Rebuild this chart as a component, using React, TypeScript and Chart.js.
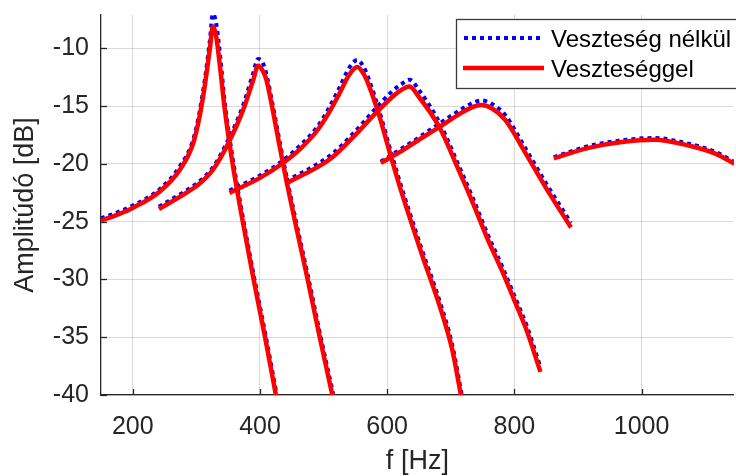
import React, { useEffect, useRef } from "react";
import { Chart, registerables } from "chart.js";

Chart.register(...registerables);

// ---- data ----
const xTicks = [200, 400, 600, 800, 1000];
const yTicks = [-40, -35, -30, -25, -20, -15, -10];
const seriesNames = ["Veszteség nélkül", "Veszteséggel"];
const xLabel = "f [Hz]";
const yLabel = "Amplitúdó [dB]";

const freq1 = [150, 175, 200, 242, 274, 295, 305, 313, 321, 326, 331, 338, 344, 357, 373, 390, 408, 426];
const lossy1 = [-24.9, -24.4, -23.8, -22.4, -20.5, -18.2, -15.9, -13.3, -10.1, -8.1, -8.9, -12.0, -15.0, -20.0, -25.0, -30.0, -35.0, -40.3];
const lossless1 = [-24.7, -24.2, -23.6, -22.2, -20.2, -17.9, -15.5, -12.8, -9.4, -7.0, -7.8, -11.0, -14.4, -19.5, -24.6, -29.6, -34.6, -39.9];

const freq2 = [241, 284, 305, 326, 352, 373, 389, 397, 404, 410, 420, 431, 441, 454, 475, 494, 515];
const lossy2 = [-23.9, -22.5, -21.7, -20.5, -18.0, -15.4, -12.8, -11.5, -11.9, -12.7, -15.3, -18.5, -21.3, -24.7, -30.0, -35.0, -40.3];
const lossless2 = [-23.7, -22.3, -21.5, -20.3, -17.7, -15.0, -12.2, -10.9, -11.2, -12.2, -14.9, -18.1, -20.9, -24.3, -29.6, -34.6, -39.9];

const freq3 = [352, 400, 434, 465, 490, 508, 525, 540, 553, 563, 572, 588, 603, 619, 637, 655, 682, 702, 717];
const lossy3 = [-22.5, -21.2, -20.0, -18.6, -17.1, -15.6, -13.9, -12.3, -11.6, -12.2, -13.3, -15.9, -18.8, -21.8, -24.9, -27.9, -32.2, -36.0, -40.3];
const lossless3 = [-22.3, -21.0, -19.8, -18.3, -16.8, -15.2, -13.4, -11.7, -11.0, -11.6, -12.8, -15.5, -18.4, -21.4, -24.5, -27.5, -31.8, -35.6, -39.9];

const freq4 = [441, 512, 546, 582, 608, 622, 635, 650, 682, 713, 735, 758, 781, 800, 820, 841];
const lossy4 = [-21.7, -19.5, -17.7, -15.6, -14.2, -13.6, -13.3, -14.2, -16.8, -20.6, -23.4, -26.5, -29.3, -31.8, -34.5, -38.0];
const lossless4 = [-21.5, -19.2, -17.4, -15.2, -13.7, -13.1, -12.7, -13.6, -16.4, -20.2, -23.0, -26.1, -28.9, -31.4, -34.1, -37.6];

const freq5 = [590, 619, 650, 682, 713, 735, 748, 765, 786, 818, 849, 889];
const lossy5 = [-19.9, -19.0, -17.9, -16.8, -15.7, -15.05, -14.9, -15.2, -16.2, -19.1, -22.0, -25.5];
const lossless5 = [-19.8, -18.8, -17.7, -16.5, -15.4, -14.7, -14.5, -14.8, -15.8, -18.7, -21.6, -25.1];

const freq6 = [862, 917, 969, 1020, 1074, 1116, 1150];
const lossy6 = [-19.5, -18.6, -18.1, -17.9, -18.4, -19.1, -20.1];
const lossless6 = [-19.4, -18.45, -17.95, -17.75, -18.25, -18.95, -19.95];

const modes = [
  { f: freq1, lossy: lossy1, lossless: lossless1 },
  { f: freq2, lossy: lossy2, lossless: lossless2 },
  { f: freq3, lossy: lossy3, lossless: lossless3 },
  { f: freq4, lossy: lossy4, lossless: lossless4 },
  { f: freq5, lossy: lossy5, lossless: lossless5 },
  { f: freq6, lossy: lossy6, lossless: lossless6 },
];

const BLUE = "#0000ff";
const RED = "#ff0000";
const AXIS = "#262626";
const FONT = '"Liberation Sans", Arial, Helvetica, sans-serif';

const decorPlugin = {
  id: "decor",
  beforeDatasetsDraw(chart: any) {
    const { ctx, chartArea, scales } = chart;
    ctx.save();
    ctx.strokeStyle = AXIS;
    ctx.lineWidth = 1.3;
    xTicks.forEach((v) => {
      const px = Math.round(scales.x.getPixelForValue(v)) + 0.5;
      ctx.beginPath();
      ctx.moveTo(px, chartArea.bottom);
      ctx.lineTo(px, chartArea.bottom - 6);
      ctx.stroke();
    });
    yTicks.forEach((v) => {
      const py = Math.round(scales.y.getPixelForValue(v)) + 0.5;
      ctx.beginPath();
      ctx.moveTo(chartArea.left, py);
      ctx.lineTo(chartArea.left + 6, py);
      ctx.stroke();
    });
    ctx.restore();
  },
  afterDraw(chart: any) {
    const { ctx } = chart;
    ctx.save();
    // legend box
    ctx.fillStyle = "#ffffff";
    ctx.fillRect(456, 19, 300, 69);
    ctx.strokeStyle = "#3a3a3a";
    ctx.lineWidth = 1.3;
    ctx.strokeRect(456.5, 19.5, 300, 69);
    // blue dotted sample
    ctx.strokeStyle = BLUE;
    ctx.lineWidth = 4;
    ctx.setLineDash([4, 4]);
    ctx.beginPath();
    ctx.moveTo(464, 38);
    ctx.lineTo(544, 38);
    ctx.stroke();
    // red solid sample
    ctx.setLineDash([]);
    ctx.strokeStyle = RED;
    ctx.lineWidth = 4.5;
    ctx.beginPath();
    ctx.moveTo(463, 68);
    ctx.lineTo(544, 68);
    ctx.stroke();
    // texts
    ctx.fillStyle = "#000000";
    ctx.font = `24px ${FONT}`;
    ctx.textAlign = "left";
    ctx.textBaseline = "alphabetic";
    ctx.fillText(seriesNames[0], 551, 46.5);
    ctx.fillText(seriesNames[1], 551, 76.5);
    ctx.restore();
  },
};

export default function App() {
  const canvasRef = useRef<HTMLCanvasElement | null>(null);

  useEffect(() => {
    if (!canvasRef.current) return;
    const redSets = modes.map((m, i) => ({
      label: seriesNames[1] + " " + (i + 1),
      data: m.f.map((x, j) => ({ x, y: m.lossy[j] })),
      borderColor: RED,
      backgroundColor: RED,
      borderWidth: 4.5,
      pointRadius: 0,
      fill: false,
      cubicInterpolationMode: "monotone" as const,
      borderCapStyle: "butt" as const,
      clip: 0,
    }));
    const blueSets = modes.map((m, i) => ({
      label: seriesNames[0] + " " + (i + 1),
      data: m.f.map((x, j) => ({ x, y: m.lossless[j] })),
      borderColor: BLUE,
      backgroundColor: BLUE,
      borderWidth: 4,
      borderDash: [4, 4],
      pointRadius: 0,
      fill: false,
      cubicInterpolationMode: "monotone" as const,
      borderCapStyle: "butt" as const,
      clip: 0,
    }));

    const chart = new Chart(canvasRef.current, {
      type: "line",
      data: { datasets: [...redSets, ...blueSets] as any },
      options: {
        responsive: false,
        animation: false,
        devicePixelRatio: 1,
        parsing: false as any,
        layout: { padding: { top: 15, right: 0, left: 0, bottom: 0 } },
        plugins: { legend: { display: false }, tooltip: { enabled: false } },
        scales: {
          x: {
            type: "linear",
            min: 150,
            max: 1145,
            afterBuildTicks: (s: any) => {
              s.ticks = xTicks.map((v) => ({ value: v }));
            },
            afterFit: (s: any) => {
              s.height = 81;
              s.paddingLeft = 0;
              s.paddingRight = 0;
            },
            grid: { color: "rgba(38,38,38,0.17)", lineWidth: 1, drawTicks: false, tickLength: 0 },
            border: { display: true, color: AXIS, width: 1.3 },
            ticks: {
              color: AXIS,
              font: { family: FONT, size: 25 },
              padding: 17,
              maxRotation: 0,
              autoSkip: false,
              callback: (v: any) => String(v),
            },
            title: {
              display: true,
              text: xLabel,
              color: AXIS,
              font: { family: FONT, size: 27 },
              padding: { top: 0, bottom: -2 },
            },
          },
          y: {
            type: "linear",
            min: -40,
            max: -7.1,
            afterBuildTicks: (s: any) => {
              s.ticks = yTicks.map((v) => ({ value: v }));
            },
            afterFit: (s: any) => {
              s.width = 101;
              s.paddingTop = 0;
              s.paddingBottom = 0;
            },
            grid: { color: "rgba(38,38,38,0.17)", lineWidth: 1, drawTicks: false, tickLength: 0 },
            border: { display: true, color: AXIS, width: 1.3 },
            ticks: {
              color: AXIS,
              font: { family: FONT, size: 25 },
              padding: 12,
              autoSkip: false,
              callback: (v: any) => String(v),
            },
            title: {
              display: true,
              text: yLabel,
              color: AXIS,
              font: { family: FONT, size: 27 },
              padding: { top: 9, bottom: 0 },
            },
          },
        },
      },
      plugins: [decorPlugin],
    });

    let alive = true;
    if ((document as any).fonts && (document as any).fonts.load) {
      (document as any).fonts.load(`24px "Liberation Sans"`).then(() => {
        if (alive) chart.update();
      });
    }

    return () => {
      alive = false;
      chart.destroy();
    };
  }, []);

  return (
    <div
      style={{
        position: "fixed",
        left: 0,
        top: 0,
        width: 736,
        height: 476,
        background: "#ffffff",
        overflow: "hidden",
      }}
    >
      <canvas ref={canvasRef} width={736} height={476} style={{ display: "block" }} />
    </div>
  );
}
